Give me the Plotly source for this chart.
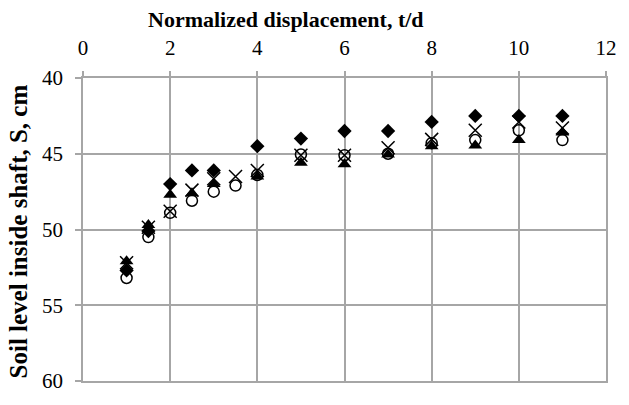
import plotly.graph_objects as go

x_diamond = [1, 1.5, 2, 2.5, 3, 4, 5, 6, 7, 8, 9, 10, 11]
y_diamond = [52.7, 50.1, 47.0, 46.1, 46.1, 44.5, 44.0, 43.5, 43.5, 42.9, 42.5, 42.5, 42.5]

x_cross = [1, 1.5, 2, 2.5, 3, 3.5, 4, 5, 6, 7, 8, 9, 10, 11]
y_cross = [52.2, 49.85, 48.8, 47.4, 46.65, 46.5, 46.1, 45.1, 45.1, 44.6, 44.05, 43.45, 42.9, 43.3]

x_circle = [1, 1.5, 2, 2.5, 3, 3.5, 4, 5, 6, 7, 8, 9, 10, 11]
y_circle = [53.2, 50.5, 48.9, 48.1, 47.5, 47.1, 46.4, 45.05, 45.1, 45.0, 44.3, 44.1, 43.45, 44.1]

x_triangle = [1, 1.5, 2, 2.5, 3, 4, 5, 6, 7, 8, 9, 10, 11]
y_triangle = [52.1, 49.7, 47.7, 47.6, 47.0, 46.5, 45.6, 45.7, 45.05, 44.5, 44.45, 44.1, 43.6]

x_ticks = [0, 2, 4, 6, 8, 10, 12]
y_ticks = [40, 45, 50, 55, 60]

GRID = "#a6a6a6"
FONT = "Liberation Serif"

fig = go.Figure()
fig.add_trace(go.Scatter(x=x_diamond, y=y_diamond, mode="markers",
                         marker=dict(symbol="diamond", size=11, color="black")))
fig.add_trace(go.Scatter(x=x_cross, y=y_cross, mode="markers",
                         marker=dict(symbol="x-thin-open", size=13, color="black",
                                     line=dict(width=1.5, color="black"))))
fig.add_trace(go.Scatter(x=x_circle, y=y_circle, mode="markers",
                         marker=dict(symbol="circle-open", size=11, color="black",
                                     line=dict(width=1.5, color="black"))))
fig.add_trace(go.Scatter(x=x_triangle, y=y_triangle, mode="markers",
                         marker=dict(symbol="triangle-up", size=12, color="black")))

fig.update_layout(
    width=629, height=405,
    margin=dict(l=83, r=13, t=78, b=15),
    paper_bgcolor="white", plot_bgcolor="white",
    showlegend=False,
    font=dict(family=FONT, size=21, color="black"),
    xaxis=dict(side="top", range=[0, 12], tickvals=x_ticks, ticktext=[str(v) for v in x_ticks],
               showgrid=True, gridcolor=GRID, gridwidth=1.5, zeroline=False,
               showline=True, linecolor=GRID, linewidth=1.5, mirror=True,
               ticks="outside", ticklen=5, tickcolor=GRID, tickwidth=1.5,
               ticklabelstandoff=8,
               tickfont=dict(family=FONT, size=21)),
    yaxis=dict(range=[60, 40], tickvals=y_ticks, ticktext=[str(v) for v in y_ticks],
               showgrid=True, gridcolor=GRID, gridwidth=1.5, zeroline=False,
               showline=True, linecolor=GRID, linewidth=1.5, mirror=True,
               ticks="outside", ticklen=6, tickcolor=GRID, tickwidth=1.5,
               ticklabelstandoff=8,
               tickfont=dict(family=FONT, size=21)),
    annotations=[
        dict(text="<b>Normalized displacement, t/d</b>", xref="paper", yref="paper",
             x=0.388, y=1.192, showarrow=False, xanchor="center", yanchor="middle",
             font=dict(family=FONT, size=22)),
        dict(text="<b>Soil level inside shaft, S, cm</b>", xref="paper", yref="paper",
             x=-0.124, y=0.494, showarrow=False, textangle=-90,
             xanchor="center", yanchor="middle", font=dict(family=FONT, size=25)),
    ],
)

fig.write_html("out.html", config={"displayModeBar": False},
               post_script="document.body.style.margin='0';")
